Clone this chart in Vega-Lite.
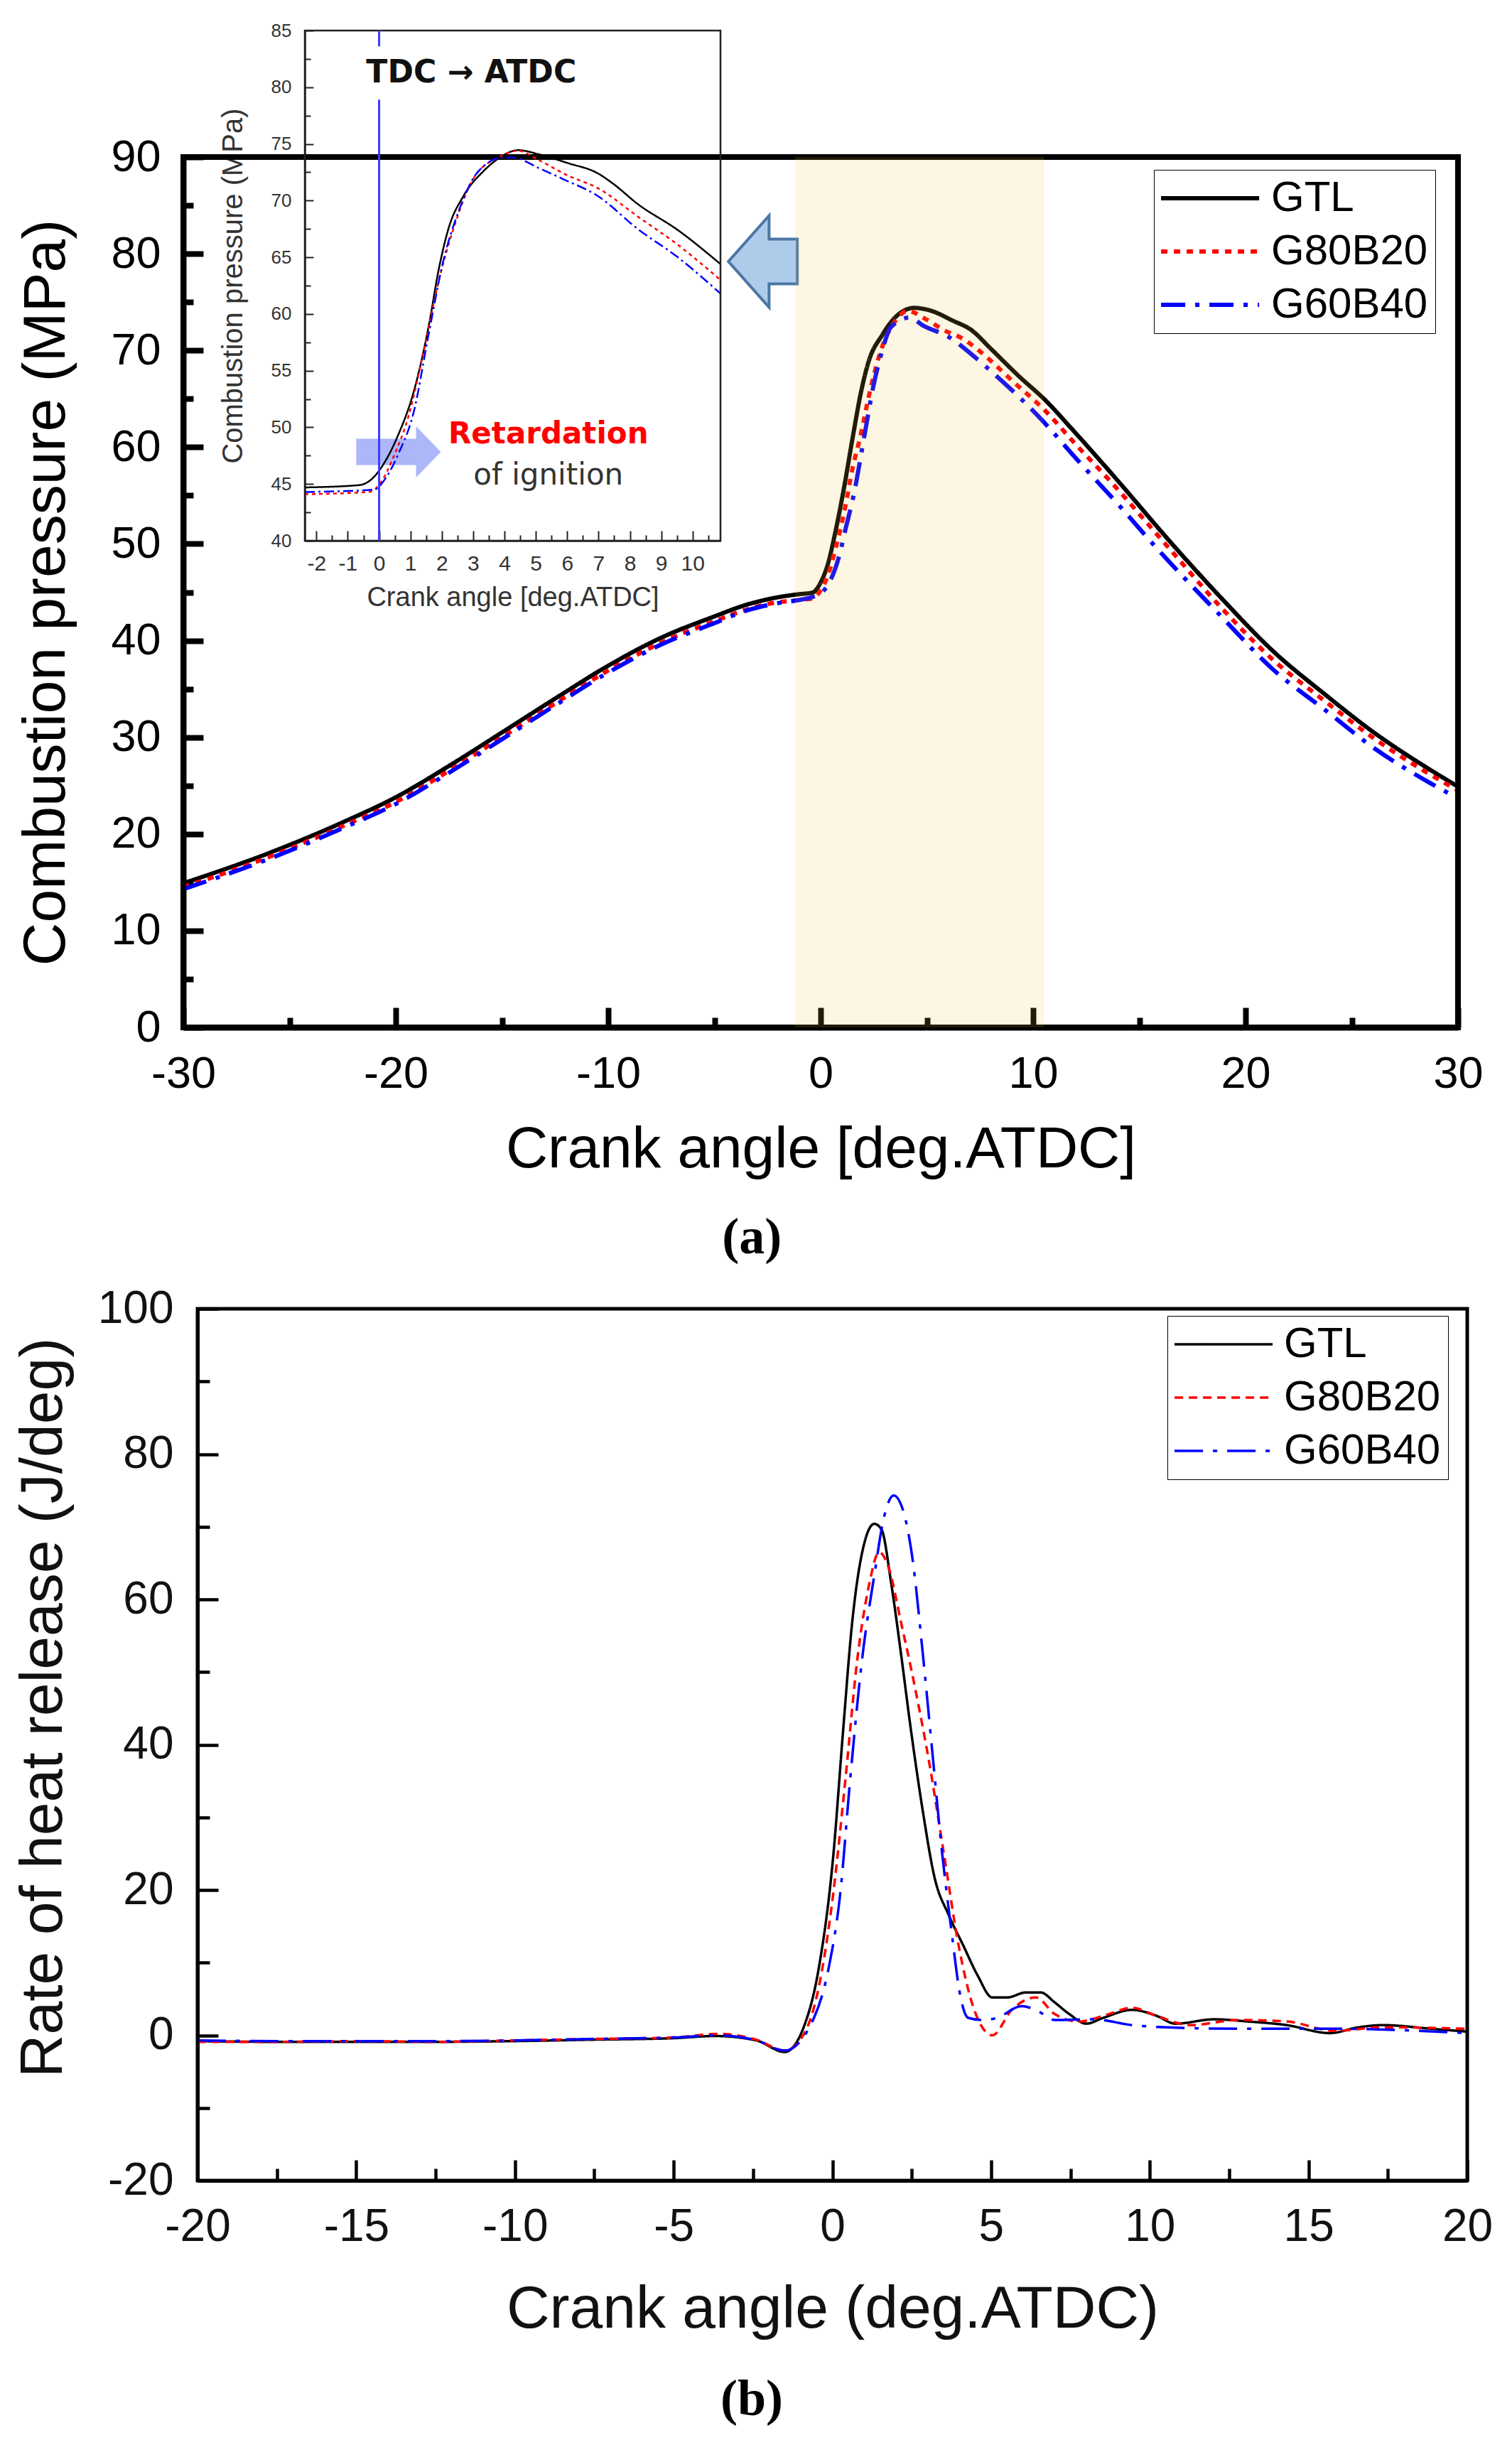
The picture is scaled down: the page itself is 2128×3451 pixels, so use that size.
{
  "$schema": "https://vega.github.io/schema/vega-lite/v6.json",
  "width": 2128,
  "height": 3451,
  "autosize": {"type": "none"},
  "padding": 0,
  "background": "white",
  "config": {
    "font": "Liberation Sans",
    "view": {"stroke": null},
    "axis": {"grid": false, "labelFlush": false, "labelOverlap": false, "labelColor": "black", "titleColor": "black", "titleFontWeight": "normal", "labelFont": "Liberation Sans", "titleFont": "Liberation Sans", "domainColor": "black", "tickColor": "black"},
    "legend": {"labelFont": "Liberation Sans", "labelColor": "black"}
  },
  "datasets": {
    "pressure": [
      {"deg": -30, "fuel": "GTL", "p": 14.9}, {"deg": -26, "fuel": "GTL", "p": 18.0}, {"deg": -22.4, "fuel": "GTL", "p": 21.3}, {"deg": -20, "fuel": "GTL", "p": 23.8},
      {"deg": -17.3, "fuel": "GTL", "p": 27.3}, {"deg": -15, "fuel": "GTL", "p": 30.5}, {"deg": -12.5, "fuel": "GTL", "p": 34.0}, {"deg": -10, "fuel": "GTL", "p": 37.4},
      {"deg": -7.5, "fuel": "GTL", "p": 40.3}, {"deg": -5, "fuel": "GTL", "p": 42.5}, {"deg": -3.5, "fuel": "GTL", "p": 43.7}, {"deg": -2.2, "fuel": "GTL", "p": 44.4},
      {"deg": -1, "fuel": "GTL", "p": 44.8}, {"deg": -0.4, "fuel": "GTL", "p": 44.95}, {"deg": 0, "fuel": "GTL", "p": 46.0}, {"deg": 0.35, "fuel": "GTL", "p": 48.0}, {"deg": 0.7, "fuel": "GTL", "p": 51.3},
      {"deg": 1.1, "fuel": "GTL", "p": 55.8}, {"deg": 1.5, "fuel": "GTL", "p": 60.9}, {"deg": 1.9, "fuel": "GTL", "p": 65.7}, {"deg": 2.25, "fuel": "GTL", "p": 68.8},
      {"deg": 2.9, "fuel": "GTL", "p": 71.6}, {"deg": 3.5, "fuel": "GTL", "p": 73.4}, {"deg": 4.4, "fuel": "GTL", "p": 74.4}, {"deg": 5.2, "fuel": "GTL", "p": 74.1},
      {"deg": 6.2, "fuel": "GTL", "p": 73.1}, {"deg": 7.1, "fuel": "GTL", "p": 72.1}, {"deg": 8.0, "fuel": "GTL", "p": 70.2}, {"deg": 9.3, "fuel": "GTL", "p": 67.4},
      {"deg": 10.6, "fuel": "GTL", "p": 64.8}, {"deg": 11.9, "fuel": "GTL", "p": 61.7}, {"deg": 13.8, "fuel": "GTL", "p": 57.0}, {"deg": 16.5, "fuel": "GTL", "p": 50.1},
      {"deg": 18.9, "fuel": "GTL", "p": 44.3}, {"deg": 21.3, "fuel": "GTL", "p": 38.9}, {"deg": 23.7, "fuel": "GTL", "p": 34.5}, {"deg": 26.1, "fuel": "GTL", "p": 30.4},
      {"deg": 28.5, "fuel": "GTL", "p": 26.9}, {"deg": 30, "fuel": "GTL", "p": 24.9},
      {"deg": -30, "fuel": "G80B20", "p": 14.5}, {"deg": -26, "fuel": "G80B20", "p": 17.6}, {"deg": -22.4, "fuel": "G80B20", "p": 20.9}, {"deg": -20, "fuel": "G80B20", "p": 23.3},
      {"deg": -17.3, "fuel": "G80B20", "p": 26.8}, {"deg": -15, "fuel": "G80B20", "p": 30.0}, {"deg": -12.5, "fuel": "G80B20", "p": 33.5}, {"deg": -10, "fuel": "G80B20", "p": 36.9},
      {"deg": -7.5, "fuel": "G80B20", "p": 39.8}, {"deg": -5, "fuel": "G80B20", "p": 42.0}, {"deg": -3.5, "fuel": "G80B20", "p": 43.2}, {"deg": -2.2, "fuel": "G80B20", "p": 43.9},
      {"deg": -1, "fuel": "G80B20", "p": 44.2}, {"deg": -0.4, "fuel": "G80B20", "p": 44.35}, {"deg": 0, "fuel": "G80B20", "p": 45.2}, {"deg": 0.35, "fuel": "G80B20", "p": 46.8}, {"deg": 0.7, "fuel": "G80B20", "p": 49.5},
      {"deg": 1.1, "fuel": "G80B20", "p": 53.2}, {"deg": 1.5, "fuel": "G80B20", "p": 57.8}, {"deg": 1.9, "fuel": "G80B20", "p": 61.4}, {"deg": 2.25, "fuel": "G80B20", "p": 65.1},
      {"deg": 2.9, "fuel": "G80B20", "p": 70.4}, {"deg": 3.5, "fuel": "G80B20", "p": 73.0}, {"deg": 4.1, "fuel": "G80B20", "p": 74.1}, {"deg": 4.9, "fuel": "G80B20", "p": 73.3},
      {"deg": 5.8, "fuel": "G80B20", "p": 72.1}, {"deg": 6.7, "fuel": "G80B20", "p": 71.2}, {"deg": 7.5, "fuel": "G80B20", "p": 69.9}, {"deg": 9.0, "fuel": "G80B20", "p": 66.9},
      {"deg": 10.6, "fuel": "G80B20", "p": 63.7}, {"deg": 12.0, "fuel": "G80B20", "p": 60.3}, {"deg": 13.5, "fuel": "G80B20", "p": 56.8}, {"deg": 16.3, "fuel": "G80B20", "p": 49.8},
      {"deg": 18.9, "fuel": "G80B20", "p": 43.3}, {"deg": 21.3, "fuel": "G80B20", "p": 38.0}, {"deg": 23.7, "fuel": "G80B20", "p": 33.8}, {"deg": 26.1, "fuel": "G80B20", "p": 29.8},
      {"deg": 28.5, "fuel": "G80B20", "p": 26.4}, {"deg": 30, "fuel": "G80B20", "p": 24.5},
      {"deg": -30, "fuel": "G60B40", "p": 14.3}, {"deg": -26, "fuel": "G60B40", "p": 17.4}, {"deg": -22.4, "fuel": "G60B40", "p": 20.7}, {"deg": -20, "fuel": "G60B40", "p": 23.1},
      {"deg": -17.3, "fuel": "G60B40", "p": 26.6}, {"deg": -15, "fuel": "G60B40", "p": 29.8}, {"deg": -12.5, "fuel": "G60B40", "p": 33.3}, {"deg": -10, "fuel": "G60B40", "p": 36.7},
      {"deg": -7.5, "fuel": "G60B40", "p": 39.6}, {"deg": -5, "fuel": "G60B40", "p": 41.8}, {"deg": -3.5, "fuel": "G60B40", "p": 43.1}, {"deg": -2.2, "fuel": "G60B40", "p": 43.8},
      {"deg": -1, "fuel": "G60B40", "p": 44.2}, {"deg": -0.4, "fuel": "G60B40", "p": 44.5}, {"deg": 0, "fuel": "G60B40", "p": 44.9}, {"deg": 0.33, "fuel": "G60B40", "p": 45.7}, {"deg": 0.84, "fuel": "G60B40", "p": 48.5},
      {"deg": 1.2, "fuel": "G60B40", "p": 51.8}, {"deg": 1.55, "fuel": "G60B40", "p": 55.0}, {"deg": 2.06, "fuel": "G60B40", "p": 61.2}, {"deg": 2.5, "fuel": "G60B40", "p": 66.5},
      {"deg": 2.9, "fuel": "G60B40", "p": 70.0}, {"deg": 3.3, "fuel": "G60B40", "p": 72.4}, {"deg": 4.2, "fuel": "G60B40", "p": 73.4}, {"deg": 4.8, "fuel": "G60B40", "p": 72.6},
      {"deg": 6.1, "fuel": "G60B40", "p": 71.3}, {"deg": 7.1, "fuel": "G60B40", "p": 69.6}, {"deg": 8.0, "fuel": "G60B40", "p": 67.9}, {"deg": 10.2, "fuel": "G60B40", "p": 63.3},
      {"deg": 12.2, "fuel": "G60B40", "p": 58.4}, {"deg": 14.0, "fuel": "G60B40", "p": 54.1}, {"deg": 15.8, "fuel": "G60B40", "p": 49.6}, {"deg": 18.9, "fuel": "G60B40", "p": 42.4},
      {"deg": 21.3, "fuel": "G60B40", "p": 37.0}, {"deg": 23.7, "fuel": "G60B40", "p": 32.9}, {"deg": 26.1, "fuel": "G60B40", "p": 28.8}, {"deg": 28.5, "fuel": "G60B40", "p": 25.5},
      {"deg": 30, "fuel": "G60B40", "p": 23.7}
    ],
    "inset": [
      {"deg": -2.37, "fuel": "GTL", "p": 44.7}, {"deg": -0.65, "fuel": "GTL", "p": 44.9}, {"deg": -0.25, "fuel": "GTL", "p": 45.4}, {"deg": 0.15, "fuel": "GTL", "p": 46.8},
      {"deg": 0.62, "fuel": "GTL", "p": 49.4}, {"deg": 1.1, "fuel": "GTL", "p": 53.1}, {"deg": 1.58, "fuel": "GTL", "p": 58.9}, {"deg": 1.9, "fuel": "GTL", "p": 63.9},
      {"deg": 2.21, "fuel": "GTL", "p": 67.5}, {"deg": 2.69, "fuel": "GTL", "p": 70.4}, {"deg": 3.33, "fuel": "GTL", "p": 72.6}, {"deg": 3.8, "fuel": "GTL", "p": 73.7},
      {"deg": 4.44, "fuel": "GTL", "p": 74.45}, {"deg": 5.07, "fuel": "GTL", "p": 74.1}, {"deg": 6.03, "fuel": "GTL", "p": 73.3}, {"deg": 6.98, "fuel": "GTL", "p": 72.4},
      {"deg": 7.46, "fuel": "GTL", "p": 71.5}, {"deg": 8.25, "fuel": "GTL", "p": 69.7}, {"deg": 9.53, "fuel": "GTL", "p": 67.4}, {"deg": 10.89, "fuel": "GTL", "p": 64.4},
      {"deg": -2.37, "fuel": "G80B20", "p": 44.1}, {"deg": -0.33, "fuel": "G80B20", "p": 44.3}, {"deg": 0.07, "fuel": "G80B20", "p": 45.2}, {"deg": 0.46, "fuel": "G80B20", "p": 47.4},
      {"deg": 0.94, "fuel": "G80B20", "p": 51.0}, {"deg": 1.42, "fuel": "G80B20", "p": 56.7}, {"deg": 1.9, "fuel": "G80B20", "p": 62.9}, {"deg": 2.37, "fuel": "G80B20", "p": 67.5},
      {"deg": 3.0, "fuel": "G80B20", "p": 71.9}, {"deg": 3.8, "fuel": "G80B20", "p": 73.8}, {"deg": 4.44, "fuel": "G80B20", "p": 74.4}, {"deg": 5.07, "fuel": "G80B20", "p": 73.6},
      {"deg": 6.03, "fuel": "G80B20", "p": 72.2}, {"deg": 6.98, "fuel": "G80B20", "p": 71.1}, {"deg": 8.25, "fuel": "G80B20", "p": 68.6}, {"deg": 9.53, "fuel": "G80B20", "p": 66.1},
      {"deg": 10.89, "fuel": "G80B20", "p": 63.0},
      {"deg": -2.37, "fuel": "G60B40", "p": 44.3}, {"deg": -0.17, "fuel": "G60B40", "p": 44.5}, {"deg": 0.23, "fuel": "G60B40", "p": 45.6}, {"deg": 0.62, "fuel": "G60B40", "p": 47.7},
      {"deg": 1.1, "fuel": "G60B40", "p": 51.3}, {"deg": 1.58, "fuel": "G60B40", "p": 58.2}, {"deg": 2.05, "fuel": "G60B40", "p": 64.7}, {"deg": 2.53, "fuel": "G60B40", "p": 69.0},
      {"deg": 3.17, "fuel": "G60B40", "p": 72.6}, {"deg": 3.96, "fuel": "G60B40", "p": 73.8}, {"deg": 4.28, "fuel": "G60B40", "p": 73.8}, {"deg": 5.07, "fuel": "G60B40", "p": 72.9},
      {"deg": 5.87, "fuel": "G60B40", "p": 71.9}, {"deg": 6.98, "fuel": "G60B40", "p": 70.4}, {"deg": 8.25, "fuel": "G60B40", "p": 67.5}, {"deg": 9.53, "fuel": "G60B40", "p": 65.0},
      {"deg": 10.89, "fuel": "G60B40", "p": 61.8}
    ],
    "rohr": [
      {"deg": -20, "fuel": "GTL", "r": -0.8}, {"deg": -17.5, "fuel": "GTL", "r": -0.9}, {"deg": -15, "fuel": "GTL", "r": -0.9}, {"deg": -12.5, "fuel": "GTL", "r": -0.9},
      {"deg": -10, "fuel": "GTL", "r": -0.8}, {"deg": -7.5, "fuel": "GTL", "r": -0.6}, {"deg": -5, "fuel": "GTL", "r": -0.4}, {"deg": -3.7, "fuel": "GTL", "r": -0.1},
      {"deg": -2.4, "fuel": "GTL", "r": -0.7}, {"deg": -1.5, "fuel": "GTL", "r": -2.3}, {"deg": -0.88, "fuel": "GTL", "r": 1.4}, {"deg": -0.43, "fuel": "GTL", "r": 9.2},
      {"deg": 0.03, "fuel": "GTL", "r": 24.8}, {"deg": 0.33, "fuel": "GTL", "r": 41.5}, {"deg": 0.63, "fuel": "GTL", "r": 57.1}, {"deg": 0.94, "fuel": "GTL", "r": 66.5},
      {"deg": 1.32, "fuel": "GTL", "r": 70.4}, {"deg": 1.55, "fuel": "GTL", "r": 69.6}, {"deg": 1.85, "fuel": "GTL", "r": 62.3}, {"deg": 2.15, "fuel": "GTL", "r": 52.9},
      {"deg": 2.46, "fuel": "GTL", "r": 42.5}, {"deg": 2.84, "fuel": "GTL", "r": 31.1}, {"deg": 3.22, "fuel": "GTL", "r": 21.7}, {"deg": 3.67, "fuel": "GTL", "r": 16.5},
      {"deg": 4.13, "fuel": "GTL", "r": 12.3}, {"deg": 4.58, "fuel": "GTL", "r": 8.2}, {"deg": 5.04, "fuel": "GTL", "r": 5.2}, {"deg": 5.5, "fuel": "GTL", "r": 5.2},
      {"deg": 6.1, "fuel": "GTL", "r": 5.9}, {"deg": 6.56, "fuel": "GTL", "r": 5.9}, {"deg": 7.01, "fuel": "GTL", "r": 4.5}, {"deg": 7.47, "fuel": "GTL", "r": 2.9},
      {"deg": 8.0, "fuel": "GTL", "r": 1.6}, {"deg": 8.53, "fuel": "GTL", "r": 2.4}, {"deg": 9.44, "fuel": "GTL", "r": 3.5}, {"deg": 10.2, "fuel": "GTL", "r": 2.7},
      {"deg": 10.81, "fuel": "GTL", "r": 1.6}, {"deg": 12.03, "fuel": "GTL", "r": 2.2}, {"deg": 13.09, "fuel": "GTL", "r": 1.9}, {"deg": 14.31, "fuel": "GTL", "r": 1.4},
      {"deg": 15.67, "fuel": "GTL", "r": 0.3}, {"deg": 16.58, "fuel": "GTL", "r": 1.1}, {"deg": 17.34, "fuel": "GTL", "r": 1.4}, {"deg": 18.86, "fuel": "GTL", "r": 0.9},
      {"deg": 20, "fuel": "GTL", "r": 0.5},
      {"deg": -20, "fuel": "G80B20", "r": -0.9}, {"deg": -17.5, "fuel": "G80B20", "r": -0.9}, {"deg": -15, "fuel": "G80B20", "r": -0.8}, {"deg": -12.5, "fuel": "G80B20", "r": -0.9},
      {"deg": -10, "fuel": "G80B20", "r": -0.7}, {"deg": -7.5, "fuel": "G80B20", "r": -0.5}, {"deg": -5, "fuel": "G80B20", "r": -0.3}, {"deg": -3.6, "fuel": "G80B20", "r": 0.2},
      {"deg": -2.4, "fuel": "G80B20", "r": -0.6}, {"deg": -1.5, "fuel": "G80B20", "r": -2.1}, {"deg": -0.88, "fuel": "G80B20", "r": 0.3}, {"deg": -0.43, "fuel": "G80B20", "r": 6.6},
      {"deg": 0.03, "fuel": "G80B20", "r": 19.6}, {"deg": 0.41, "fuel": "G80B20", "r": 35.2}, {"deg": 0.79, "fuel": "G80B20", "r": 51.9}, {"deg": 1.17, "fuel": "G80B20", "r": 62.3},
      {"deg": 1.47, "fuel": "G80B20", "r": 66.5}, {"deg": 1.77, "fuel": "G80B20", "r": 64.4}, {"deg": 2.15, "fuel": "G80B20", "r": 57.1}, {"deg": 2.61, "fuel": "G80B20", "r": 47.7},
      {"deg": 3.06, "fuel": "G80B20", "r": 37.3}, {"deg": 3.52, "fuel": "G80B20", "r": 24.8}, {"deg": 3.98, "fuel": "G80B20", "r": 12.3}, {"deg": 4.43, "fuel": "G80B20", "r": 4.0},
      {"deg": 5.04, "fuel": "G80B20", "r": 0.0}, {"deg": 5.65, "fuel": "G80B20", "r": 3.5}, {"deg": 6.41, "fuel": "G80B20", "r": 5.2}, {"deg": 7.01, "fuel": "G80B20", "r": 2.9},
      {"deg": 7.77, "fuel": "G80B20", "r": 1.9}, {"deg": 8.69, "fuel": "G80B20", "r": 2.9}, {"deg": 9.44, "fuel": "G80B20", "r": 3.8}, {"deg": 10.2, "fuel": "G80B20", "r": 2.7},
      {"deg": 11.27, "fuel": "G80B20", "r": 1.4}, {"deg": 12.79, "fuel": "G80B20", "r": 2.1}, {"deg": 14.31, "fuel": "G80B20", "r": 1.9}, {"deg": 15.83, "fuel": "G80B20", "r": 0.6},
      {"deg": 17.34, "fuel": "G80B20", "r": 1.1}, {"deg": 20, "fuel": "G80B20", "r": 0.9},
      {"deg": -20, "fuel": "G60B40", "r": -0.7}, {"deg": -17.5, "fuel": "G60B40", "r": -0.8}, {"deg": -15, "fuel": "G60B40", "r": -0.8}, {"deg": -12.5, "fuel": "G60B40", "r": -0.8},
      {"deg": -10, "fuel": "G60B40", "r": -0.7}, {"deg": -7.5, "fuel": "G60B40", "r": -0.5}, {"deg": -5, "fuel": "G60B40", "r": -0.3}, {"deg": -3.6, "fuel": "G60B40", "r": 0.0},
      {"deg": -2.4, "fuel": "G60B40", "r": -0.7}, {"deg": -1.5, "fuel": "G60B40", "r": -2.1}, {"deg": -0.58, "fuel": "G60B40", "r": 2.4}, {"deg": -0.12, "fuel": "G60B40", "r": 9.2},
      {"deg": 0.25, "fuel": "G60B40", "r": 19.6}, {"deg": 0.56, "fuel": "G60B40", "r": 35.2}, {"deg": 0.94, "fuel": "G60B40", "r": 51.9}, {"deg": 1.32, "fuel": "G60B40", "r": 63.3},
      {"deg": 1.62, "fuel": "G60B40", "r": 71.2}, {"deg": 1.93, "fuel": "G60B40", "r": 74.3}, {"deg": 2.23, "fuel": "G60B40", "r": 72.2}, {"deg": 2.53, "fuel": "G60B40", "r": 65.4},
      {"deg": 2.84, "fuel": "G60B40", "r": 52.9}, {"deg": 3.14, "fuel": "G60B40", "r": 39.4}, {"deg": 3.44, "fuel": "G60B40", "r": 25.8}, {"deg": 3.75, "fuel": "G60B40", "r": 14.4},
      {"deg": 4.05, "fuel": "G60B40", "r": 5.0}, {"deg": 4.28, "fuel": "G60B40", "r": 2.4}, {"deg": 4.74, "fuel": "G60B40", "r": 2.1}, {"deg": 5.19, "fuel": "G60B40", "r": 2.4},
      {"deg": 5.95, "fuel": "G60B40", "r": 4.0}, {"deg": 6.41, "fuel": "G60B40", "r": 3.5}, {"deg": 7.01, "fuel": "G60B40", "r": 2.1}, {"deg": 8.23, "fuel": "G60B40", "r": 2.2},
      {"deg": 9.44, "fuel": "G60B40", "r": 1.4}, {"deg": 10.51, "fuel": "G60B40", "r": 1.1}, {"deg": 12.79, "fuel": "G60B40", "r": 0.9}, {"deg": 15.83, "fuel": "G60B40", "r": 0.9},
      {"deg": 20, "fuel": "G60B40", "r": 0.3}
    ]
  },
  "layer": [
    {
      "data": {"name": "pressure"},
      "mark": {"type": "line", "strokeWidth": 6, "interpolate": "monotone"},
      "encoding": {
        "x": {"field": "deg", "type": "quantitative", "scale": {"domain": [-30, 30], "range": [258, 2052], "nice": false, "zero": false},
          "axis": {"orient": "bottom", "offset": -2005, "values": [-30, -20, -10, 0, 10, 20, 30], "ticks": false, "tickSize": 0, "domainWidth": 8, "labelFontSize": 63, "labelPadding": 34, "labelExpr": "datum.value + ''", "title": "Crank angle [deg.ATDC]", "titleFontSize": 82, "titleY": 171, "titleBaseline": "middle"}},
        "y": {"field": "p", "type": "quantitative", "scale": {"domain": [0, 90], "range": [1446, 221], "nice": false, "zero": false},
          "axis": {"orient": "left", "offset": -258, "values": [0, 10, 20, 30, 40, 50, 60, 70, 80, 90], "ticks": false, "tickSize": 0, "domainWidth": 8, "labelFontSize": 63, "labelPadding": 32, "labelExpr": "datum.value + ''", "title": "Combustion pressure (MPa)", "titleFontSize": 84, "titleX": -193, "titleBaseline": "middle"}},
        "color": {"field": "fuel", "type": "nominal", "scale": {"domain": ["GTL", "G80B20", "G60B40"], "range": ["#000000", "#FF0000", "#0000FF"]},
          "legend": {"orient": "none", "legendX": 1624, "legendY": 239, "title": null, "symbolType": "M-1.3,0L4.7,0", "symbolSize": 2116, "symbolStrokeWidth": 6, "labelFontSize": 60, "labelOffset": 95, "labelLimit": 500, "rowPadding": 15, "padding": 10, "strokeColor": "black"}},
        "strokeDash": {"field": "fuel", "type": "nominal", "scale": {"domain": ["GTL", "G80B20", "G60B40"], "range": [[1, 0], [9, 9], [34, 14, 6, 14]]},
          "legend": {"orient": "none", "legendX": 1624, "legendY": 239, "title": null, "symbolType": "M-1.3,0L4.7,0", "symbolSize": 2116, "symbolStrokeWidth": 6, "labelFontSize": 60, "labelOffset": 95, "labelLimit": 500, "rowPadding": 15, "padding": 10, "strokeColor": "black"}}
      }
    },
    {
      "data": {"values": [{}]},
      "mark": {"type": "rect", "filled": false, "color": "black", "strokeWidth": 8},
      "encoding": {
        "x": {"datum": -30, "type": "quantitative", "scale": {"domain": [-30, 30], "range": [258, 2052], "nice": false, "zero": false},
          "axis": {"orient": "bottom", "offset": -2005, "values": [-30, -20, -10, 0, 10, 20, 30], "tickSize": -28, "tickWidth": 8, "labels": false, "domain": false, "title": null}},
        "x2": {"datum": 30},
        "y": {"datum": 0, "type": "quantitative", "scale": {"domain": [0, 90], "range": [1446, 221], "nice": false, "zero": false},
          "axis": {"orient": "left", "offset": -258, "values": [0, 10, 20, 30, 40, 50, 60, 70, 80, 90], "tickSize": -28, "tickWidth": 8, "labels": false, "domain": false, "title": null}},
        "y2": {"datum": 90}
      }
    },
    {
      "data": {"values": [{}]},
      "mark": {"type": "point", "shape": "M-1,0L0.18,-1.33L0.18,-0.65L1,-0.65L1,0.65L0.18,0.65L0.18,1.33Z", "size": 9409, "filled": true, "fill": "#AECBEA", "stroke": "#4A76A6", "strokeWidth": 4, "opacity": 1},
      "encoding": {
        "x": {"datum": -2.72, "type": "quantitative", "scale": {"domain": [-30, 30], "range": [258, 2052], "nice": false, "zero": false}, "axis": null},
        "y": {"datum": 79.2, "type": "quantitative", "scale": {"domain": [0, 90], "range": [1446, 221], "nice": false, "zero": false}, "axis": null}
      }
    },
    {
      "data": {"values": [{}]},
      "mark": {"type": "rect", "color": "#F0BE3C", "opacity": 0.14},
      "encoding": {
        "x": {"datum": -1.2, "type": "quantitative", "scale": {"domain": [-30, 30], "range": [258, 2052], "nice": false, "zero": false},
          "axis": {"orient": "bottom", "offset": -2005, "values": [-25, -15, -5, 5, 15, 25], "tickSize": -14, "tickWidth": 8, "labels": false, "domain": false, "title": null}},
        "x2": {"datum": 10.5},
        "y": {"datum": 0, "type": "quantitative", "scale": {"domain": [0, 90], "range": [1446, 221], "nice": false, "zero": false},
          "axis": {"orient": "left", "offset": -258, "values": [5, 15, 25, 35, 45, 55, 65, 75, 85], "tickSize": -14, "tickWidth": 8, "labels": false, "domain": false, "title": null}},
        "y2": {"datum": 90}
      }
    },
    {
      "data": {"values": [{}]},
      "mark": {"type": "text", "text": "(a)", "font": "Liberation Serif", "fontWeight": "bold", "fontSize": 72, "align": "center", "baseline": "middle", "color": "black"},
      "encoding": {
        "x": {"datum": -3.24, "type": "quantitative", "scale": {"domain": [-30, 30], "range": [258, 2052], "nice": false, "zero": false}, "axis": null},
        "y": {"datum": -21.75, "type": "quantitative", "scale": {"domain": [0, 90], "range": [1446, 221], "nice": false, "zero": false}, "axis": null}
      }
    },
    {
      "data": {"values": [{}]},
      "mark": {"type": "point", "shape": "M-1,-0.31L0.415,-0.31L0.415,-0.605L1,0L0.415,0.605L0.415,0.31L-1,0.31Z", "size": 14161, "filled": true, "fill": "#9FA9F7", "opacity": 0.85, "strokeWidth": 0},
      "encoding": {
        "x": {"datum": 0.62, "type": "quantitative", "scale": {"domain": [-2.37, 10.89], "range": [429, 1014], "nice": false, "zero": false}, "axis": null},
        "y": {"datum": 47.83, "type": "quantitative", "scale": {"domain": [40, 85], "range": [761, 43], "nice": false, "zero": false}, "axis": null}
      }
    },
    {
      "data": {"name": "inset"},
      "mark": {"type": "line", "strokeWidth": 2.5, "interpolate": "monotone"},
      "encoding": {
        "x": {"field": "deg", "type": "quantitative", "scale": {"domain": [-2.37, 10.89], "range": [429, 1014], "nice": false, "zero": false},
          "axis": {"orient": "bottom", "offset": -2690, "values": [-2, -1, 0, 1, 2, 3, 4, 5, 6, 7, 8, 9, 10], "ticks": false, "tickSize": 0, "domainWidth": 2.5, "domainColor": "#222222", "labelFontSize": 30, "labelColor": "#333333", "labelPadding": 17, "labelExpr": "datum.value + ''", "title": "Crank angle [deg.ATDC]", "titleFontSize": 38, "titleColor": "#333333", "titleY": 80, "titleBaseline": "middle"}},
        "y": {"field": "p", "type": "quantitative", "scale": {"domain": [40, 85], "range": [761, 43], "nice": false, "zero": false},
          "axis": {"orient": "left", "offset": -429, "values": [40, 45, 50, 55, 60, 65, 70, 75, 80, 85], "ticks": false, "tickSize": 0, "domainWidth": 2.5, "domainColor": "#222222", "labelFontSize": 26, "labelColor": "#333333", "labelPadding": 19, "title": "Combustion pressure (MPa)", "titleFontSize": 40, "titleColor": "#333333", "titleX": -101, "titleBaseline": "middle"}},
        "color": {"field": "fuel", "type": "nominal", "scale": {"domain": ["GTL", "G80B20", "G60B40"], "range": ["#000000", "#FF0000", "#0000FF"]}, "legend": null},
        "strokeDash": {"field": "fuel", "type": "nominal", "scale": {"domain": ["GTL", "G80B20", "G60B40"], "range": [[1, 0], [5, 5], [14, 5, 3, 5]]}, "legend": null}
      }
    },
    {
      "data": {"values": [{}]},
      "mark": {"type": "rect", "filled": false, "color": "#222222", "strokeWidth": 2.5},
      "encoding": {
        "x": {"datum": -2.37, "type": "quantitative", "scale": {"domain": [-2.37, 10.89], "range": [429, 1014], "nice": false, "zero": false},
          "axis": {"orient": "bottom", "offset": -2690, "values": [-2, -1, 0, 1, 2, 3, 4, 5, 6, 7, 8, 9, 10], "tickSize": -14, "tickWidth": 2, "tickColor": "#222222", "labels": false, "domain": false, "title": null}},
        "x2": {"datum": 10.89},
        "y": {"datum": 40, "type": "quantitative", "scale": {"domain": [40, 85], "range": [761, 43], "nice": false, "zero": false},
          "axis": {"orient": "left", "offset": -429, "values": [40, 45, 50, 55, 60, 65, 70, 75, 80, 85], "tickSize": -12, "tickWidth": 2, "tickColor": "#222222", "labels": false, "domain": false, "title": null}},
        "y2": {"datum": 85}
      }
    },
    {
      "data": {"values": [{}]},
      "mark": {"type": "rule", "color": "#3B3BFF", "strokeWidth": 3},
      "encoding": {
        "x": {"datum": 0, "type": "quantitative", "scale": {"domain": [-2.37, 10.89], "range": [429, 1014], "nice": false, "zero": false},
          "axis": {"orient": "bottom", "offset": -2690, "values": [-1.5, -0.5, 0.5, 1.5, 2.5, 3.5, 4.5, 5.5, 6.5, 7.5, 8.5, 9.5, 10.5], "tickSize": -8, "tickWidth": 2, "tickColor": "#222222", "labels": false, "domain": false, "title": null}},
        "y": {"datum": 40, "type": "quantitative", "scale": {"domain": [40, 85], "range": [761, 43], "nice": false, "zero": false},
          "axis": {"orient": "left", "offset": -429, "values": [42.5, 47.5, 52.5, 57.5, 62.5, 67.5, 72.5, 77.5, 82.5], "tickSize": -8, "tickWidth": 2, "tickColor": "#222222", "labels": false, "domain": false, "title": null}},
        "y2": {"datum": 78.9}
      }
    },
    {
      "data": {"values": [{}]},
      "mark": {"type": "rule", "color": "#3B3BFF", "strokeWidth": 3},
      "encoding": {
        "x": {"datum": 0, "type": "quantitative", "scale": {"domain": [-2.37, 10.89], "range": [429, 1014], "nice": false, "zero": false}, "axis": null},
        "y": {"datum": 83.6, "type": "quantitative", "scale": {"domain": [40, 85], "range": [761, 43], "nice": false, "zero": false}, "axis": null},
        "y2": {"datum": 85}
      }
    },
    {
      "data": {"values": [{}]},
      "mark": {"type": "text", "text": "TDC → ATDC", "font": "DejaVu Sans", "fontWeight": "bold", "fontSize": 44, "align": "center", "baseline": "middle", "color": "#111111"},
      "encoding": {
        "x": {"datum": 2.94, "type": "quantitative", "scale": {"domain": [-2.37, 10.89], "range": [429, 1014], "nice": false, "zero": false}, "axis": null},
        "y": {"datum": 81.24, "type": "quantitative", "scale": {"domain": [40, 85], "range": [761, 43], "nice": false, "zero": false}, "axis": null}
      }
    },
    {
      "data": {"values": [{}]},
      "mark": {"type": "text", "text": "Retardation", "font": "DejaVu Sans", "fontWeight": "bold", "fontSize": 42, "align": "center", "baseline": "middle", "color": "#FF0000"},
      "encoding": {
        "x": {"datum": 5.4, "type": "quantitative", "scale": {"domain": [-2.37, 10.89], "range": [429, 1014], "nice": false, "zero": false}, "axis": null},
        "y": {"datum": 49.39, "type": "quantitative", "scale": {"domain": [40, 85], "range": [761, 43], "nice": false, "zero": false}, "axis": null}
      }
    },
    {
      "data": {"values": [{}]},
      "mark": {"type": "text", "text": "of ignition", "font": "DejaVu Sans", "fontSize": 42, "align": "center", "baseline": "middle", "color": "#333333"},
      "encoding": {
        "x": {"datum": 5.4, "type": "quantitative", "scale": {"domain": [-2.37, 10.89], "range": [429, 1014], "nice": false, "zero": false}, "axis": null},
        "y": {"datum": 45.79, "type": "quantitative", "scale": {"domain": [40, 85], "range": [761, 43], "nice": false, "zero": false}, "axis": null}
      }
    },
    {
      "data": {"name": "rohr"},
      "mark": {"type": "line", "strokeWidth": 3.5, "interpolate": "monotone"},
      "encoding": {
        "x": {"field": "deg", "type": "quantitative", "scale": {"domain": [-20, 20], "range": [278, 2065], "nice": false, "zero": false},
          "axis": {"orient": "bottom", "offset": -382, "values": [-20, -15, -10, -5, 0, 5, 10, 15, 20], "ticks": false, "tickSize": 0, "domainWidth": 5, "labelFontSize": 64, "labelColor": "#111111", "labelPadding": 33, "labelExpr": "datum.value + ''", "title": "Crank angle (deg.ATDC)", "titleFontSize": 84, "titleColor": "#111111", "titleY": 181, "titleBaseline": "middle"}},
        "y": {"field": "r", "type": "quantitative", "scale": {"domain": [-20, 100], "range": [3069, 1842], "nice": false, "zero": false},
          "axis": {"orient": "left", "offset": -278, "values": [-20, 0, 20, 40, 60, 80, 100], "ticks": false, "tickSize": 0, "domainWidth": 5, "labelFontSize": 64, "labelColor": "#111111", "labelPadding": 34, "labelExpr": "datum.value + ''", "title": "Rate of heat release (J/deg)", "titleFontSize": 84, "titleColor": "#111111", "titleX": -217, "titleY": 2403, "titleBaseline": "middle"}},
        "color": {"field": "fuel", "type": "nominal", "scale": {"domain": ["GTL", "G80B20", "G60B40"], "range": ["#000000", "#FF0000", "#0000FF"]},
          "legend": {"orient": "none", "legendX": 1643, "legendY": 1852, "title": null, "symbolType": "M-1.3,0L4.7,0", "symbolSize": 2116, "symbolStrokeWidth": 3.5, "labelFontSize": 60, "labelOffset": 94, "labelLimit": 500, "rowPadding": 15, "padding": 10, "strokeColor": "black"}},
        "strokeDash": {"field": "fuel", "type": "nominal", "scale": {"domain": ["GTL", "G80B20", "G60B40"], "range": [[1, 0], [12, 8], [40, 14, 6, 14]]},
          "legend": {"orient": "none", "legendX": 1643, "legendY": 1852, "title": null, "symbolType": "M-1.3,0L4.7,0", "symbolSize": 2116, "symbolStrokeWidth": 3.5, "labelFontSize": 60, "labelOffset": 94, "labelLimit": 500, "rowPadding": 15, "padding": 10, "strokeColor": "black"}}
      }
    },
    {
      "data": {"values": [{}]},
      "mark": {"type": "rect", "filled": false, "color": "black", "strokeWidth": 5},
      "encoding": {
        "x": {"datum": -20, "type": "quantitative", "scale": {"domain": [-20, 20], "range": [278, 2065], "nice": false, "zero": false},
          "axis": {"orient": "bottom", "offset": -382, "values": [-20, -15, -10, -5, 0, 5, 10, 15, 20], "tickSize": -29, "tickWidth": 4.5, "labels": false, "domain": false, "title": null}},
        "x2": {"datum": 20},
        "y": {"datum": -20, "type": "quantitative", "scale": {"domain": [-20, 100], "range": [3069, 1842], "nice": false, "zero": false},
          "axis": {"orient": "left", "offset": -278, "values": [-20, 0, 20, 40, 60, 80, 100], "tickSize": -29, "tickWidth": 4.5, "labels": false, "domain": false, "title": null}},
        "y2": {"datum": 100}
      }
    },
    {
      "data": {"values": [{}]},
      "mark": {"type": "text", "text": "(b)", "font": "Liberation Serif", "fontWeight": "bold", "fontSize": 72, "align": "center", "baseline": "middle", "color": "black"},
      "encoding": {
        "x": {"datum": -2.54, "type": "quantitative", "scale": {"domain": [-20, 20], "range": [278, 2065], "nice": false, "zero": false},
          "axis": {"orient": "bottom", "offset": -382, "values": [-17.5, -12.5, -7.5, -2.5, 2.5, 7.5, 12.5, 17.5], "tickSize": -17, "tickWidth": 4.5, "labels": false, "domain": false, "title": null}},
        "y": {"datum": -50.15, "type": "quantitative", "scale": {"domain": [-20, 100], "range": [3069, 1842], "nice": false, "zero": false},
          "axis": {"orient": "left", "offset": -278, "values": [-10, 10, 30, 50, 70, 90], "tickSize": -17, "tickWidth": 4.5, "labels": false, "domain": false, "title": null}}
      }
    }
  ],
  "resolve": {
    "scale": {"x": "independent", "y": "independent", "color": "independent", "strokeDash": "independent"},
    "axis": {"x": "independent", "y": "independent"},
    "legend": {"color": "independent", "strokeDash": "independent"}
  }
}
